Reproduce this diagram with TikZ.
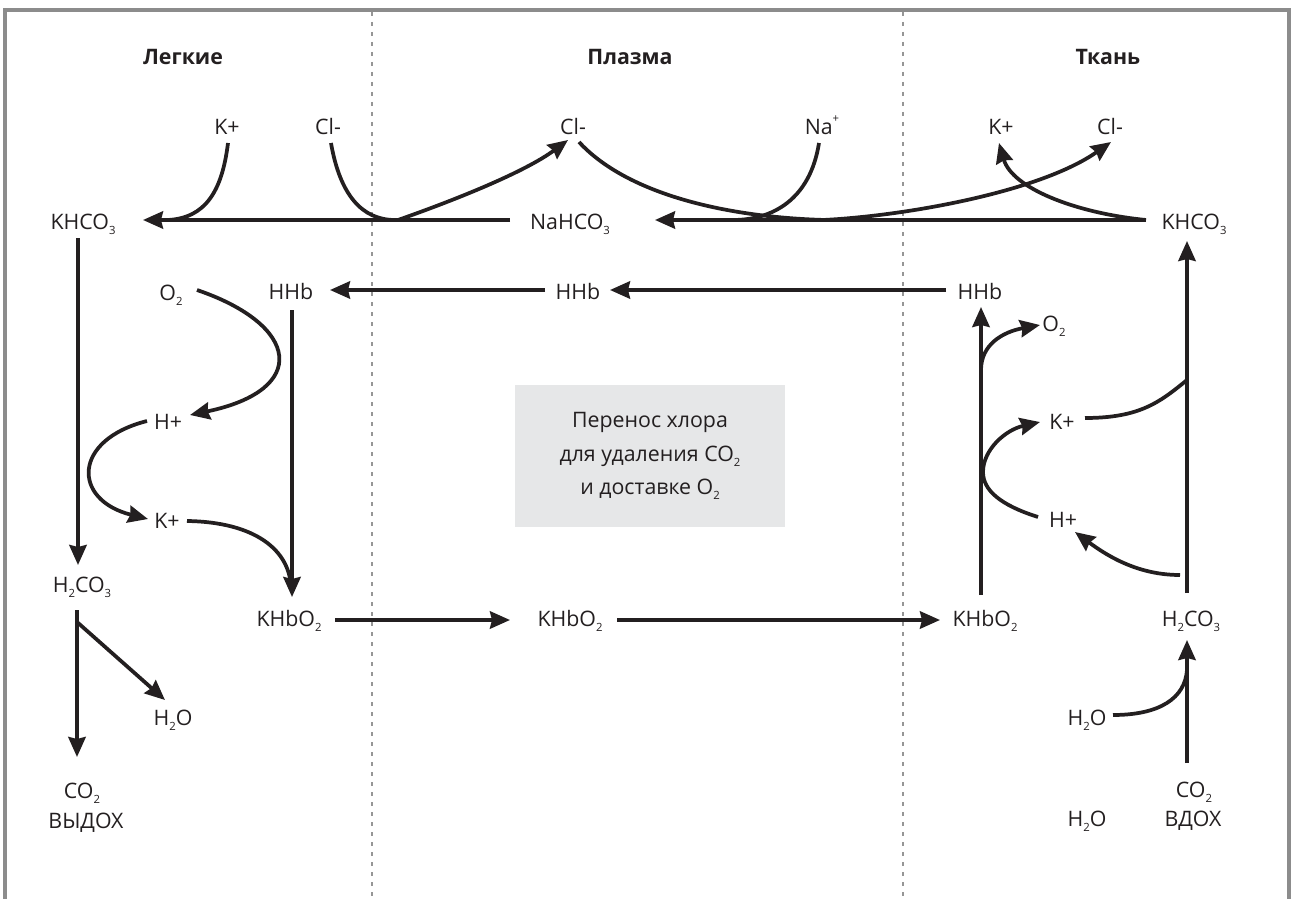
\documentclass[tikz,border=0pt]{standalone}
\usepackage{fontspec}
\setmainfont{Open Sans}
\usetikzlibrary{arrows.meta}
\definecolor{ink}{RGB}{35,31,32}
\definecolor{frame}{RGB}{140,140,140}
\definecolor{divgray}{RGB}{150,150,150}
\definecolor{boxgray}{RGB}{230,231,232}
\newcommand\chsub[1]{\raisebox{-0.45ex}{\fontsize{8.5}{9}\selectfont #1}}
\newcommand\chsup[1]{\raisebox{1.1ex}{\fontsize{8.5}{9}\selectfont #1}}
\begin{document}
\begin{tikzpicture}[x=0.75pt,y=-0.75pt,
  every node/.style={inner sep=0pt, text=ink, font=\fontsize{16}{19}\selectfont},
  lbl/.style={anchor=base},
  head/.style={anchor=base, font=\fontsize{16}{19}\selectfont\bfseries},
  arr/.style={draw=ink, line width=2.8pt, -{Stealth[length=15pt,width=13pt,inset=1.5pt]}},
  ln/.style={draw=ink, line width=2.8pt},
  border/.style={draw=frame, line width=3pt},
  divider/.style={draw=divgray, line width=1.2pt, dash pattern=on 3pt off 4.5pt},
  infobox/.style={fill=boxgray, minimum width=202.5pt, minimum height=106.5pt, align=center, font=\fontsize{16}{25}\selectfont}]
\useasboundingbox (0,0) rectangle (1293,899);
% frame
\coordinate (bBL) at (5,899); \coordinate (bTL) at (5,10);
\coordinate (bTR) at (1289,10); \coordinate (bBR) at (1289,899);
\draw[border] (bBL) -- (bTL) -- (bTR) -- (bBR);
% dividers
\coordinate (dA1) at (372,12); \coordinate (dA2) at (372,899);
\coordinate (dB1) at (903,12); \coordinate (dB2) at (903,899);
\draw[divider] (dA1) -- (dA2);
\draw[divider] (dB1) -- (dB2);
% headings
\node[head] (hLung) at (183,65) {Легкие};
\node[head] (hPlasma) at (630,65) {Плазма};
\node[head] (hTissue) at (1108,65) {Ткань};
% top ions
\node[lbl] (kTL) at (227,135) {K+};
\node[lbl] (clTL) at (328,135) {Cl-};
\node[lbl] (clTM) at (573,135) {Cl-};
\node[lbl] (naTM) at (822,135) {Na\chsup{+}};
\node[lbl] (kTR) at (1001,135) {K+};
\node[lbl] (clTR) at (1110,135) {Cl-};
% bicarbonates
\node[lbl] (khco3L) at (83,229) {KHCO\chsub{3}};
\node[lbl] (nahco3) at (570,229) {NaHCO\chsub{3}};
\node[lbl] (khco3R) at (1194,229) {KHCO\chsub{3}};
% HHb row
\node[lbl] (o2L) at (171,300) {O\chsub{2}};
\node[lbl] (hhbL) at (291,299) {HHb};
\node[lbl] (hhbM) at (578,299) {HHb};
\node[lbl] (hhbR) at (980,299) {HHb};
\node[lbl] (o2R) at (1054,331) {O\chsub{2}};
\node[lbl] (hL) at (168,429) {H+};
\node[lbl] (kR) at (1062,429) {K+};
\node[lbl] (kL) at (167,528) {K+};
\node[lbl] (hR) at (1063,527) {H+};
% info box
\node[infobox] (info) at (650,456) {Перенос хлора\\для удаления CO\chsub{2}\\и доставке O\chsub{2}};
% bottom rows
\node[lbl] (h2co3L) at (82,592) {H\chsub{2}CO\chsub{3}};
\node[lbl] (khbo2L) at (289,626) {KHbO\chsub{2}};
\node[lbl] (khbo2M) at (570,626) {KHbO\chsub{2}};
\node[lbl] (khbo2R) at (985,626) {KHbO\chsub{2}};
\node[lbl] (h2co3R) at (1191,626) {H\chsub{2}CO\chsub{3}};
\node[lbl] (h2oL) at (173,725) {H\chsub{2}O};
\node[lbl] (h2oR) at (1087,725) {H\chsub{2}O};
\node[lbl] (co2L) at (82,798) {CO\chsub{2}};
\node[lbl] (exhale) at (86,828) {ВЫДОХ};
\node[lbl] (co2R) at (1194,797) {CO\chsub{2}};
\node[lbl] (inhale) at (1193,826) {ВДОХ};
\node[lbl] (h2oB) at (1087,826) {H\chsub{2}O};
% ---- connector coordinates
\coordinate (naS) at (510,220);
\coordinate (khLtip) at (143,220);
\coordinate (kTLs) at (228,143);
\coordinate (kTLe) at (168,220);
\coordinate (clTLs) at (331,143);
\coordinate (clTLe) at (395,220);
\coordinate (clMs) at (398,220);
\coordinate (clMtip) at (568,140);
\coordinate (clM2s) at (579,142);
\coordinate (clM2e) at (825,220);
\coordinate (khRs) at (1146,220);
\coordinate (naTip) at (655,220);
\coordinate (naTs) at (819,143);
\coordinate (naTe) at (733,220);
\coordinate (clRs) at (823,220);
\coordinate (clRtip) at (1111,142);
\coordinate (kRtip) at (999,143);
% top row connectors
\draw[arr] (naS) -- (khLtip);
\draw[ln] (kTLs) .. controls (222,192) and (205,218) .. (kTLe);
\draw[ln] (clTLs) .. controls (340,195) and (362,220) .. (clTLe);
\draw[arr] (clMs) .. controls (455,200) and (525,172) .. (clMtip);
\draw[ln] (clM2s) .. controls (625,192) and (720,217) .. (clM2e);
\draw[arr] (khRs) -- (naTip);
\draw[ln] (naTs) .. controls (810,200) and (772,220) .. (naTe);
\draw[arr] (clRs) .. controls (905,216) and (1040,192) .. (clRtip);
\draw[arr] (khRs) .. controls (1075,213) and (1012,188) .. (kRtip);
% HHb row
\coordinate (hhbRs) at (946,290); \coordinate (hhbMtip) at (610,290);
\coordinate (hhbMs) at (545,290); \coordinate (hhbLtip) at (330,290);
\draw[arr] (hhbRs) -- (hhbMtip);
\draw[arr] (hhbMs) -- (hhbLtip);
% left column
\coordinate (khLs) at (78,238); \coordinate (h2coLtip) at (78,565);
\draw[arr] (khLs) -- (h2coLtip);
\coordinate (o2Ls) at (197,290); \coordinate (hLtip) at (190,415);
\draw[arr] (o2Ls) .. controls (300,325) and (310,390) .. (hLtip);
\coordinate (hLs) at (147,421); \coordinate (kLtip) at (148,519);
\draw[arr] (hLs) .. controls (72,440) and (72,500) .. (kLtip);
\coordinate (kLs) at (187,521); \coordinate (kLe) at (291,588);
\draw[ln] (kLs) .. controls (255,522) and (290,550) .. (kLe);
\coordinate (hhbLs) at (292,310); \coordinate (khbLtip) at (292,597);
\draw[arr] (hhbLs) -- (khbLtip);
\coordinate (h2coLs) at (77,610); \coordinate (co2Ltip) at (77,757);
\draw[arr] (h2coLs) -- (co2Ltip);
\coordinate (brL) at (77,622); \coordinate (h2oLtip) at (165,700);
\draw[arr] (brL) -- (h2oLtip);
% KHbO2 row
\coordinate (khbLs) at (335,620); \coordinate (khbMtip) at (510,620);
\coordinate (khbMs) at (617,620); \coordinate (khbRtip) at (940,620);
\draw[arr] (khbLs) -- (khbMtip);
\draw[arr] (khbMs) -- (khbRtip);
% right column
\coordinate (khbRs) at (981,595); \coordinate (hhbRtip) at (981,307);
\draw[arr] (khbRs) -- (hhbRtip);
\coordinate (o2Rs) at (981,370); \coordinate (o2Rtip) at (1040,325);
\draw[arr] (o2Rs) .. controls (981,345) and (1002,332) .. (o2Rtip);
\coordinate (hRs) at (1038,517); \coordinate (hRmid) at (983,472); \coordinate (kRtip2) at (1040,422);
\draw[arr] (hRs) .. controls (1000,505) and (983,490) .. (hRmid) .. controls (983,450) and (1005,430) .. (kRtip2);
\coordinate (h2coRs) at (1187,593); \coordinate (khRtip) at (1187,241);
\draw[arr] (h2coRs) -- (khRtip);
\coordinate (kRs) at (1085,418); \coordinate (kRe) at (1187,380);
\draw[ln] (kRs) .. controls (1140,418) and (1160,402) .. (kRe);
\coordinate (h2coRs2) at (1180,575); \coordinate (hRtip) at (1075,532);
\draw[arr] (h2coRs2) .. controls (1140,575) and (1110,558) .. (hRtip);
\coordinate (co2Rs) at (1187,763); \coordinate (h2coRtip) at (1187,640);
\draw[arr] (co2Rs) -- (h2coRtip);
\coordinate (h2oRs) at (1113,715); \coordinate (h2oRe) at (1187,670);
\draw[ln] (h2oRs) .. controls (1160,715) and (1185,698) .. (h2oRe);
\end{tikzpicture}
\end{document}
